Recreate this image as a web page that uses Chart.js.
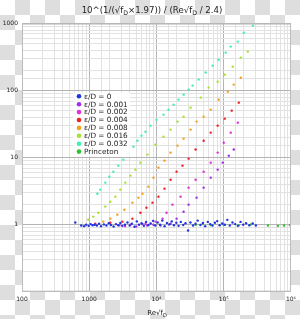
<!DOCTYPE html>
<html>
<head>
<meta charset="utf-8">
<script src="https://cdn.jsdelivr.net/npm/chart.js@4/dist/chart.umd.min.js"></script>
<style>
html, body { margin: 0; padding: 0; }
body { width: 300px; height: 319px; background: repeating-conic-gradient(#dedede 0 25%, #ffffff 0 50%) 0 0 / 30px 30px; }
#wrap { position: relative; width: 300px; height: 319px; }
</style>
</head>
<body>
<div id="wrap"><canvas id="graph"></canvas></div>
<script>
// [Re*sqrt(f), valeur]
var rugo0 = [[620,1.08],[760,0.97],[840,0.95],[900,1.0],[980,0.96],[1050,1.02],[1120,0.98],[1200,1.0],[1300,0.97],[1400,1.03],[1500,0.95],[1650,1.01],[1800,0.97],[1950,1.05],[2100,0.99],[2300,0.94],[2500,1.02],[2700,0.98],[2900,1.06],[3100,0.96],[3400,1.0],[3700,1.08],[4000,0.97],[4300,1.03],[4700,0.93],[5100,1.12],[5500,1.0],[6000,1.05],[6500,0.96],[7000,1.1],[7600,0.99],[8200,1.04],[8900,1.14],[9600,0.97],[10400,1.08],[11300,1.0],[12200,1.15],[13200,0.95],[14300,1.06],[15500,1.01],[16800,1.12],[18200,0.98],[19700,1.07],[21300,0.96],[23000,1.1],[25000,0.99],[27000,1.05],[29500,0.82],[32000,1.08],[35000,0.97],[38000,1.03],[41000,1.15],[45000,0.99],[49000,1.06],[53000,0.95],[58000,1.1],[63000,1.02],[68000,0.97],[74000,1.07],[80000,1.13],[87000,0.98],[95000,1.04],[104000,1.0],[113000,1.18],[123000,0.97],[135000,1.08],[148000,1.02],[162000,0.96],[178000,1.1],[195000,1.0],[215000,1.05],[240000,0.98],[270000,1.04],[300000,0.97]];
var rugo001 = [[5000,0.94],[6200,1.02],[7300,0.97],[9000,1.0],[11480,0.97],[16200,1.03],[19900,1.23],[25300,1.56],[30060,1.99],[39500,2.53],[50250,3.57],[64000,5.03],[81300,6.62],[96600,8.42],[118800,10.7],[141000,13.2]];
var rugo002 = [[2800,0.98],[3400,0.95],[4093,1.0],[6855,1.03],[9660,1.11],[12300,1.23],[14100,1.51],[17300,1.99],[22800,2.62],[30060,3.57],[38200,4.69],[50250,6.18],[64000,8.42],[81300,11.9],[100000,16.7],[127000,23.6],[162000,33.3]];
var rugo004 = [[1230,1.03],[2057,1.07],[3110,1.11],[4385,1.23],[5770,1.51],[7090,1.79],[8720,2.13],[10700,2.62],[13150,3.45],[16200,4.69],[19900,6.18],[24400,7.6],[30060,9.66],[38200,13.2],[50250,17.9],[64000,23.6],[81300,30.0],[103500,38.2],[131500,50.3],[167500,66.2]];
var rugo008 = [[1230,1.0],[1618,1.11],[2057,1.23],[2618,1.41],[3329,1.67],[4385,2.13],[5385,2.53],[6180,2.9],[7600,3.69],[9020,5.03],[10700,7.09],[13150,9.02],[16200,11.9],[20560,15.1],[25300,19.2],[32150,26.2],[39500,34.5],[50250,40.9],[64000,52.0],[84200,73.4],[114800,96.6],[141000,123],[179500,156]];
var rugo016 = [[966,1.19],[1148,1.32],[1363,1.51],[1733,1.86],[2057,2.2],[2443,2.62],[2900,3.33],[3445,4.24],[4093,5.39],[4864,6.62],[5770,8.42],[7340,11.1],[9660,15.6],[12700,20.6],[16200,26.2],[20560,34.5],[25300,40.9],[32150,55.7],[45400,78.7],[59700,111],[81300,136],[103500,173],[136000,228],[179500,311],[228000,382]];
var rugo032 = [[1320,2.9],[1460,3.33],[1733,4.24],[1990,5.21],[2281,6.18],[2710,7.6],[3217,9.33],[3822,11.5],[4538,14.6],[5203,17.9],[5970,21.3],[6855,24.4],[8128,30.0],[10000,36.9],[12700,43.8],[15100,52.0],[17950,61.8],[21300,73.4],[25300,87.1],[30060,103.5],[34450,118.8],[42400,146],[53850,186],[68500,236],[84200,290],[107000,369],[127000,454],[162000,539],[199000,734],[271000,933]];
var princeton = [[38200,1.0],[48600,1.02],[64000,0.99],[100000,1.0],[167500,0.98],[253000,1.01],[454000,0.97],[640000,0.96],[787000,0.97],[966000,0.99]];

var series = [rugo0, rugo001, rugo002, rugo004, rugo008, rugo016, rugo032, princeton];
var noms = ['ε/D = 0', 'ε/D = 0.001', 'ε/D = 0.002', 'ε/D = 0.004', 'ε/D = 0.008', 'ε/D = 0.016', 'ε/D = 0.032', 'Princeton'];
var couleurs = ['#2233e0', '#a030e8', '#e030d8', '#ee2222', '#f4a020', '#a8e030', '#40f0b0', '#30c030'];

var police = '"DejaVu Sans", sans-serif';

function estDecade(v) {
    var l = Math.log10(v);
    return Math.abs(l - Math.round(l)) < 1e-6;
}
function couleurGrille(ctx) {
    if (!ctx.tick) return '#e2e2e2';
    return estDecade(ctx.tick.value) ? '#b4b4b4' : '#e2e2e2';
}
var sup = { 4: '⁴', 5: '⁵', 6: '⁶' };
function etiquetteX(v) {
    if (!estDecade(v)) return '';
    var e = Math.round(Math.log10(v));
    return e <= 3 ? String(Math.round(v)) : '10' + sup[e];
}
function etiquetteY(v) {
    if (!estDecade(v) || v < 1) return '';
    return String(Math.round(v));
}

// texte avec indices (f_D)
function texteIndice(c, morceaux, cx, y, taille) {
    var w = 0;
    morceaux.forEach(function (m) {
        c.font = (m[1] ? taille * 0.72 : taille) + 'px ' + police;
        w += c.measureText(m[0]).width;
    });
    var x = cx - w / 2;
    c.textAlign = 'left';
    c.textBaseline = 'alphabetic';
    c.fillStyle = '#222';
    morceaux.forEach(function (m) {
        c.font = (m[1] ? taille * 0.72 : taille) + 'px ' + police;
        c.fillText(m[0], x, m[1] ? y + taille * 0.3 : y);
        x += c.measureText(m[0]).width;
    });
}

var decor = {
    id: 'decor',
    beforeDraw: function (chart) {
        var a = chart.chartArea, c = chart.ctx;
        c.save();
        c.fillStyle = '#fff';
        c.fillRect(a.left, a.top, a.right - a.left, a.bottom - a.top);
        c.restore();
    },
    afterDatasetsDraw: function (chart) {
        var a = chart.chartArea, c = chart.ctx;
        c.save();
        // cadre
        c.strokeStyle = '#bdbdbd';
        c.lineWidth = 1;
        c.strokeRect(a.left + 0.5, a.top + 0.5, a.right - a.left - 1, a.bottom - a.top - 1);
        // legende
        var lx = a.left + 51, ly = a.top + 69;
        c.fillStyle = 'rgba(255,255,255,0.85)';
        c.fillRect(lx, ly, 57, 64);
        c.font = '7.3px ' + police;
        c.textBaseline = 'middle';
        c.textAlign = 'left';
        for (var i = 0; i < noms.length; i++) {
            var yy = ly + 3.7 + i * 7.9;
            c.fillStyle = couleurs[i];
            c.beginPath();
            c.arc(lx + 6, yy, 2.3, 0, Math.PI * 2);
            c.fill();
            c.fillStyle = '#222';
            c.fillText(noms[i], lx + 11, yy + 0.5);
        }
        // titres
        texteIndice(c, [['10^(1/(√f'], ['D', true], ['×1.97)) / (Re√f'], ['D', true], [' / 2.4)']], 152, 12.5, 8.6);
        texteIndice(c, [['Re√f'], ['D', true]], 157, 314.5, 7);
        c.restore();
    }
};

var donnees = {
    datasets: series.map(function (s, i) {
        return {
            label: noms[i],
            data: s.map(function (p) { return { x: p[0], y: p[1] }; }),
            backgroundColor: couleurs[i],
            borderWidth: 0,
            pointRadius: 1.2,
            pointHoverRadius: 1.2
        };
    })
};

var options = {
    responsive: true,
    maintainAspectRatio: false,
    animation: false,
    layout: { padding: { top: 23.6, right: 8, left: 0, bottom: 0 } },
    plugins: { legend: { display: false }, tooltip: { enabled: false } },
    scales: {
        x: {
            type: 'logarithmic', min: 100, max: 1e6,
            grid: { color: couleurGrille, drawTicks: false },
            border: { color: '#bdbdbd' },
            ticks: { autoSkip: false, maxRotation: 0, padding: 4, color: '#222', font: { size: 6, family: police }, callback: etiquetteX },
            afterFit: function (s) { s.height = 27.3; }
        },
        y: {
            type: 'logarithmic', min: 0.1, max: 1000,
            grid: { color: couleurGrille, drawTicks: false },
            border: { color: '#bdbdbd' },
            ticks: { autoSkip: false, padding: 4, color: '#222', font: { size: 6, family: police }, callback: etiquetteY },
            afterFit: function (s) { s.width = 22; }
        }
    }
};

var graphique = new Chart(document.getElementById('graph'), {
    type: 'scatter', data: donnees, options: options, plugins: [decor]
});
</script>
</body>
</html>
